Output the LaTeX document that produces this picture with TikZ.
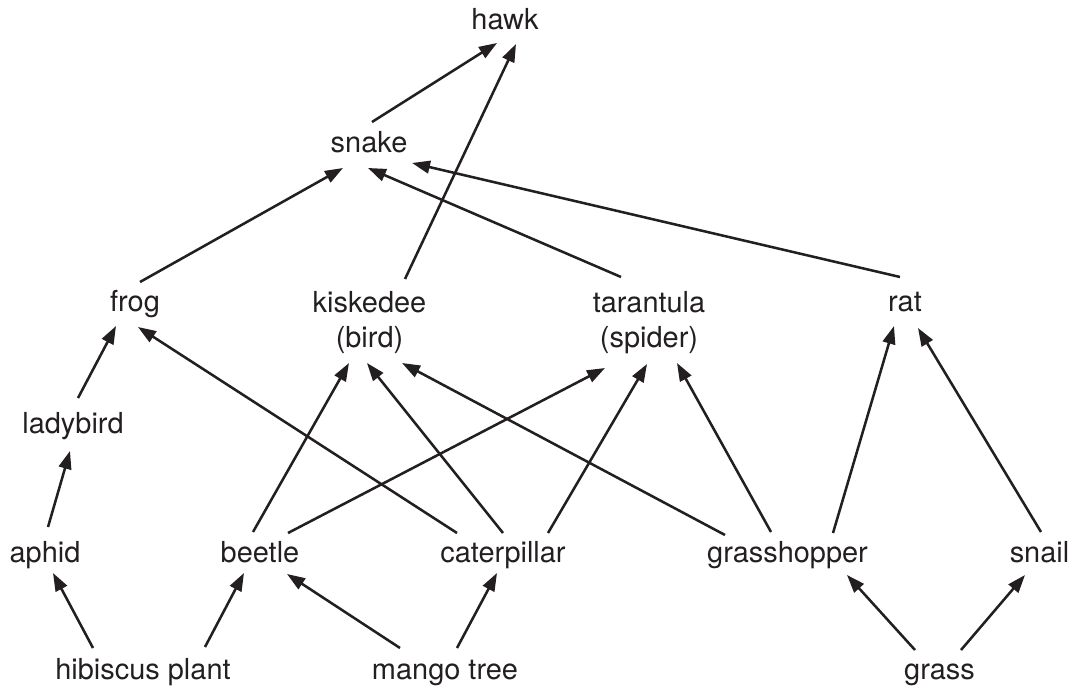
\documentclass[tikz,border=0pt]{standalone}
\usepackage{fontspec}
\setmainfont{TeX Gyre Heros}
\usetikzlibrary{arrows.meta}
\definecolor{ink}{HTML}{231F20}
\begin{document}
\begin{tikzpicture}[x=0.75pt,y=-0.75pt,
  lbl/.style={anchor=base,inner sep=0pt,outer sep=0pt,text=ink,align=center,
    font=\fontsize{21.7pt}{26.5pt}\selectfont},
  arr/.style={draw=ink,line width=1.9pt,-{Triangle[length=13.5pt,width=9.5pt]}}]
\useasboundingbox (0,0) rectangle (1074,691);
% nodes (base anchor = baseline of the last line)
\node[lbl] (hawk)   at (505,30)    {hawk};
\node[lbl] (snake)  at (369,153)   {snake};
\node[lbl] (frog)   at (135,312)   {frog};
\node[lbl] (kisk)   at (369.5,347.5) {kiskedee\\(bird)};
\node[lbl] (tara)   at (649,347.5)   {tarantula\\(spider)};
\node[lbl] (rat)    at (905,312)   {rat};
\node[lbl] (lady)   at (73,433)    {ladybird};
\node[lbl] (aphid)  at (45,562)    {aphid};
\node[lbl] (beetle) at (260,562)   {beetle};
\node[lbl] (cater)  at (503,562)   {caterpillar};
\node[lbl] (grassh) at (787.5,562) {grasshopper};
\node[lbl] (snail)  at (1039.5,562){snail};
\node[lbl] (hib)    at (143,679)   {hibiscus plant};
\node[lbl] (mango)  at (445,679)   {mango tree};
\node[lbl] (grass)  at (939.5,679) {grass};
% connectors
\draw[arr] ([shift={(3,-31)}]snake.base) -- ([shift={(-8,13)}]hawk.base);
\draw[arr] ([shift={(35.5,-68.5)}]kisk.base) -- ([shift={(11,14)}]hawk.base);
\draw[arr] ([shift={(5,-30)}]frog.base) -- ([shift={(-26,15)}]snake.base);
\draw[arr] ([shift={(-28,-70.5)}]tara.base) -- ([shift={(-1,15)}]snake.base);
\draw[arr] ([shift={(-5,-35)}]rat.base) -- ([shift={(43,10)}]snake.base);
\draw[arr] ([shift={(5,-35)}]lady.base) -- ([shift={(-19,14)}]frog.base);
\draw[arr] ([shift={(-46,-29)}]cater.base) -- ([shift={(3,15)}]frog.base);
\draw[arr] ([shift={(-7,-30)}]beetle.base) -- ([shift={(-20.5,15.5)}]kisk.base);
\draw[arr] ([shift={(0,-29)}]cater.base) -- ([shift={(-2.5,15.5)}]kisk.base);
\draw[arr] ([shift={(-62.5,-27)}]grassh.base) -- ([shift={(32.5,15.5)}]kisk.base);
\draw[arr] ([shift={(28,-29)}]beetle.base) -- ([shift={(-44,20.5)}]tara.base);
\draw[arr] ([shift={(45,-29)}]cater.base) -- ([shift={(-2,16.5)}]tara.base);
\draw[arr] ([shift={(-16.5,-30)}]grassh.base) -- ([shift={(28,15.5)}]tara.base);
\draw[arr] ([shift={(45.5,-29)}]grassh.base) -- ([shift={(-11,14)}]rat.base);
\draw[arr] ([shift={(1.5,-30)}]snail.base) -- ([shift={(13,16)}]rat.base);
\draw[arr] ([shift={(3,-35)}]aphid.base) -- ([shift={(-3,18)}]lady.base);
\draw[arr] ([shift={(-50,-31)}]hib.base) -- ([shift={(8,11)}]aphid.base);
\draw[arr] ([shift={(62,-32)}]hib.base) -- ([shift={(-16,11)}]beetle.base);
\draw[arr] ([shift={(-45,-31)}]mango.base) -- ([shift={(27,12)}]beetle.base);
\draw[arr] ([shift={(12,-31)}]mango.base) -- ([shift={(-6,11)}]cater.base);
\draw[arr] ([shift={(-24.5,-29)}]grass.base) -- ([shift={(59.5,13)}]grassh.base);
\draw[arr] ([shift={(21.5,-29)}]grass.base) -- ([shift={(-14.5,13)}]snail.base);
\end{tikzpicture}
\end{document}
